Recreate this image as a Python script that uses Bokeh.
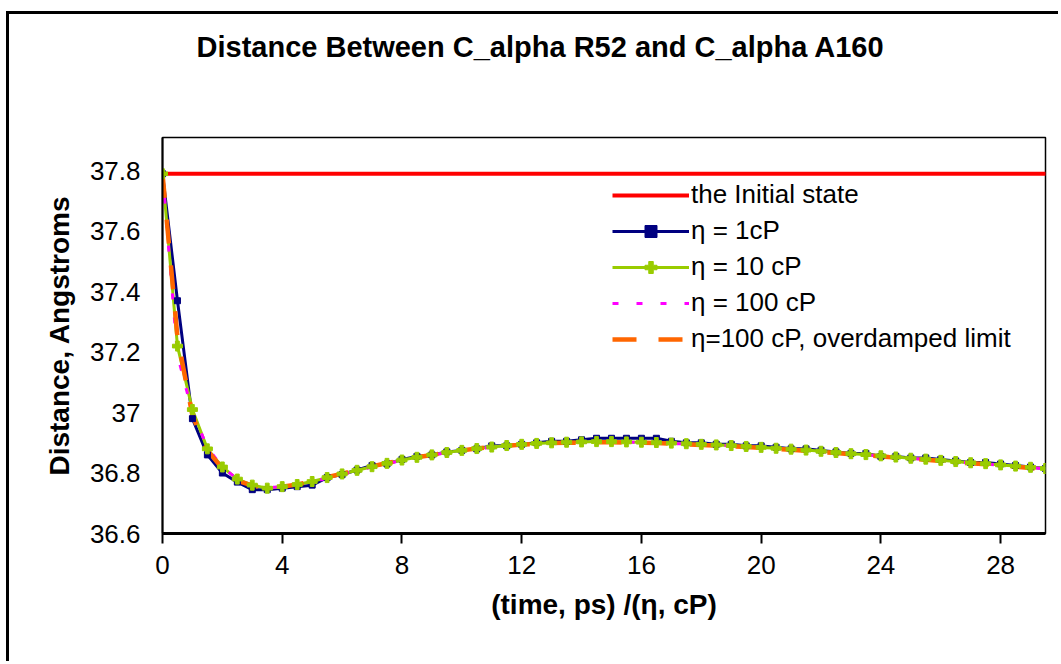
from bokeh.plotting import figure
from bokeh.models import FixedTicker, Legend, LegendItem, Title
from bokeh.embed import file_html
from bokeh.resources import INLINE

# ---- data ----
time_ps_per_eta = [
    0, 0.5, 1, 1.5, 2, 2.5, 3, 3.5, 4, 4.5,
    5, 5.5, 6, 6.5, 7, 7.5, 8, 8.5, 9, 9.5,
    10, 10.5, 11, 11.5, 12, 12.5, 13, 13.5, 14, 14.5,
    15, 15.5, 16, 16.5, 17, 17.5, 18, 18.5, 19, 19.5,
    20, 20.5, 21, 21.5, 22, 22.5, 23, 23.5, 24, 24.5,
    25, 25.5, 26, 26.5, 27, 27.5, 28, 28.5, 29, 29.5,
    30,
]
initial_state = 37.79
eta_1 = [
    37.79, 37.37, 36.98, 36.86, 36.80, 36.77, 36.745, 36.745, 36.75, 36.755,
    36.76, 36.785, 36.795, 36.81, 36.825, 36.83, 36.845, 36.855, 36.86, 36.87,
    36.875, 36.88, 36.89, 36.89, 36.895, 36.90, 36.905, 36.905, 36.91, 36.915,
    36.915, 36.915, 36.915, 36.915, 36.905, 36.90, 36.90, 36.895, 36.895, 36.89,
    36.89, 36.885, 36.88, 36.88, 36.875, 36.87, 36.865, 36.865, 36.855, 36.855,
    36.85, 36.85, 36.845, 36.84, 36.835, 36.835, 36.83, 36.825, 36.82, 36.815,
    36.81,
]
eta_10 = [
    37.79, 37.22, 37.01, 36.88, 36.82, 36.78, 36.76, 36.75, 36.755, 36.762,
    36.772, 36.785, 36.797, 36.809, 36.821, 36.832, 36.843, 36.852, 36.86, 36.868,
    36.875, 36.881, 36.886, 36.891, 36.895, 36.898, 36.9, 36.902, 36.903, 36.904,
    36.904, 36.903, 36.902, 36.901, 36.899, 36.897, 36.895, 36.893, 36.891, 36.888,
    36.885, 36.882, 36.879, 36.876, 36.872, 36.868, 36.864, 36.861, 36.857, 36.853,
    36.849, 36.846, 36.842, 36.838, 36.834, 36.831, 36.827, 36.823, 36.819, 36.815,
    36.811,
]
eta_100 = [
    37.79, 37.19, 37.00, 36.885, 36.82, 36.78, 36.76, 36.752, 36.754, 36.76,
    36.77, 36.783, 36.796, 36.808, 36.82, 36.831, 36.842, 36.851, 36.859, 36.867,
    36.874, 36.88, 36.885, 36.89, 36.894, 36.897, 36.899, 36.901, 36.902, 36.903,
    36.903, 36.902, 36.901, 36.90, 36.898, 36.896, 36.894, 36.892, 36.89, 36.887,
    36.884, 36.881, 36.878, 36.875, 36.871, 36.867, 36.863, 36.86, 36.856, 36.852,
    36.848, 36.845, 36.841, 36.837, 36.833, 36.83, 36.826, 36.822, 36.818, 36.814,
    36.81,
]
eta_100_overdamped = [
    37.79, 37.25, 36.99, 36.875, 36.815, 36.775, 36.758, 36.752, 36.755, 36.762,
    36.773, 36.786, 36.798, 36.81, 36.822, 36.833, 36.843, 36.852, 36.86, 36.868,
    36.875, 36.881, 36.886, 36.89, 36.894, 36.897, 36.899, 36.90, 36.901, 36.902,
    36.902, 36.901, 36.90, 36.899, 36.897, 36.895, 36.893, 36.891, 36.889, 36.886,
    36.883, 36.88, 36.877, 36.874, 36.87, 36.866, 36.862, 36.859, 36.855, 36.851,
    36.847, 36.844, 36.84, 36.836, 36.832, 36.829, 36.825, 36.821, 36.817, 36.813,
    36.809,
]
x_ticks = [0, 4, 8, 12, 16, 20, 24, 28]
y_ticks = [36.6, 36.8, 37.0, 37.2, 37.4, 37.6, 37.8]
y_tick_labels = ["36.6", "36.8", "37", "37.2", "37.4", "37.6", "37.8"]
series_names = ["the Initial state", "\u03b7 = 1cP", "\u03b7 = 10 cP",
                "\u03b7 = 100 cP", "\u03b7=100 cP, overdamped limit"]
chart_title = "Distance Between C_alpha R52 and C_alpha A160"

FONT = "Liberation Sans"
INK = "#000000"

p = figure(width=1052, height=650, output_backend="svg", toolbar_location=None,
           x_range=(0, 29.5), y_range=(36.6, 37.91),
           min_border_left=153, min_border_right=16,
           min_border_top=123, min_border_bottom=131,
           background_fill_color="white", border_fill_color="white")
p.title_location = None
p.margin = (11, 0, 0, 6)
p.styles = {"border-left": "3px solid #000000", "border-top": "3px solid #000000"}

p.xgrid.visible = False
p.ygrid.visible = False
p.outline_line_color = INK
p.outline_line_width = 1.5

# title: a blank spacer panel next to the frame, then the real title above it
spacer = Title(text=" ", text_font=FONT, text_font_size="28px", standoff=37)
p.add_layout(spacer, "above")
main_title = Title(text=chart_title, text_font=FONT, text_font_size="29px",
                   text_font_style="bold", text_color=INK, align="left",
                   offset=34, standoff=10)
p.add_layout(main_title, "above")

# axes
xa = p.xaxis[0]
xa.ticker = FixedTicker(ticks=x_ticks)
xa.axis_label = "(time, ps) /(\u03b7, cP)"
xa.axis_label_text_font = FONT
xa.axis_label_text_font_size = "28px"
xa.axis_label_text_font_style = "bold"
xa.axis_label_text_color = INK
xa.axis_label_standoff = 12
xa.major_label_text_font = FONT
xa.major_label_text_font_size = "26px"
xa.major_label_text_color = INK
xa.major_label_standoff = 12
xa.major_tick_out = 10
xa.major_tick_in = 0
xa.minor_tick_out = 0
xa.minor_tick_in = 0
xa.axis_line_width = 3
xa.axis_line_color = INK
xa.major_tick_line_width = 2
xa.major_tick_line_color = INK

ya = p.yaxis[0]
ya.ticker = FixedTicker(ticks=y_ticks)
ya.major_label_overrides = {t: s for t, s in zip(y_ticks, y_tick_labels)}
ya.axis_label = "Distance, Angstroms"
ya.axis_label_text_font = FONT
ya.axis_label_text_font_size = "28px"
ya.axis_label_text_font_style = "bold"
ya.axis_label_text_color = INK
ya.axis_label_standoff = 12
ya.major_label_text_font = FONT
ya.major_label_text_font_size = "26px"
ya.major_label_text_color = INK
ya.major_label_standoff = 22
ya.major_tick_out = 0
ya.major_tick_in = 0
ya.minor_tick_out = 0
ya.minor_tick_in = 0
ya.axis_line_width = 2
ya.axis_line_color = INK

# series
x_span = [time_ps_per_eta[0], time_ps_per_eta[-1]]
r_init = p.line(x_span, [initial_state, initial_state], line_color="#FF0000", line_width=4)

r_b_line = p.line(time_ps_per_eta, eta_1, line_color="#000080", line_width=3)
r_g_line = p.line(time_ps_per_eta, eta_10, line_color="#99CC00", line_width=3)
r_m_line = p.line(time_ps_per_eta, eta_100, line_color="#FF00FF", line_width=3,
                  line_dash="6 18")
r_o_line = p.line(time_ps_per_eta, eta_100_overdamped, line_color="#FF6600",
                  line_width=4.5, line_dash="24 22")
r_b_mk = p.scatter(time_ps_per_eta, eta_1, marker="square", size=6,
                   fill_color="#000080", line_color="#000080")
r_g_mk = p.scatter(time_ps_per_eta, eta_10, marker="plus", size=10,
                   fill_color="#99CC00", line_color="#99CC00")

legend = Legend(items=[
    LegendItem(label=series_names[0], renderers=[r_init]),
    LegendItem(label=series_names[1], renderers=[r_b_line, r_b_mk]),
    LegendItem(label=series_names[2], renderers=[r_g_line, r_g_mk]),
    LegendItem(label=series_names[3], renderers=[r_m_line]),
    LegendItem(label=series_names[4], renderers=[r_o_line]),
], location=(450, 179))
legend.border_line_color = None
legend.background_fill_alpha = 0
legend.label_text_font = FONT
legend.label_text_font_size = "26px"
legend.label_text_color = INK
legend.glyph_width = 77
legend.glyph_height = 30
legend.label_height = 30
legend.label_standoff = 2
legend.spacing = 5
legend.padding = 0
legend.margin = 0
p.add_layout(legend)

open("out.html", "w").write(file_html(p, INLINE))
